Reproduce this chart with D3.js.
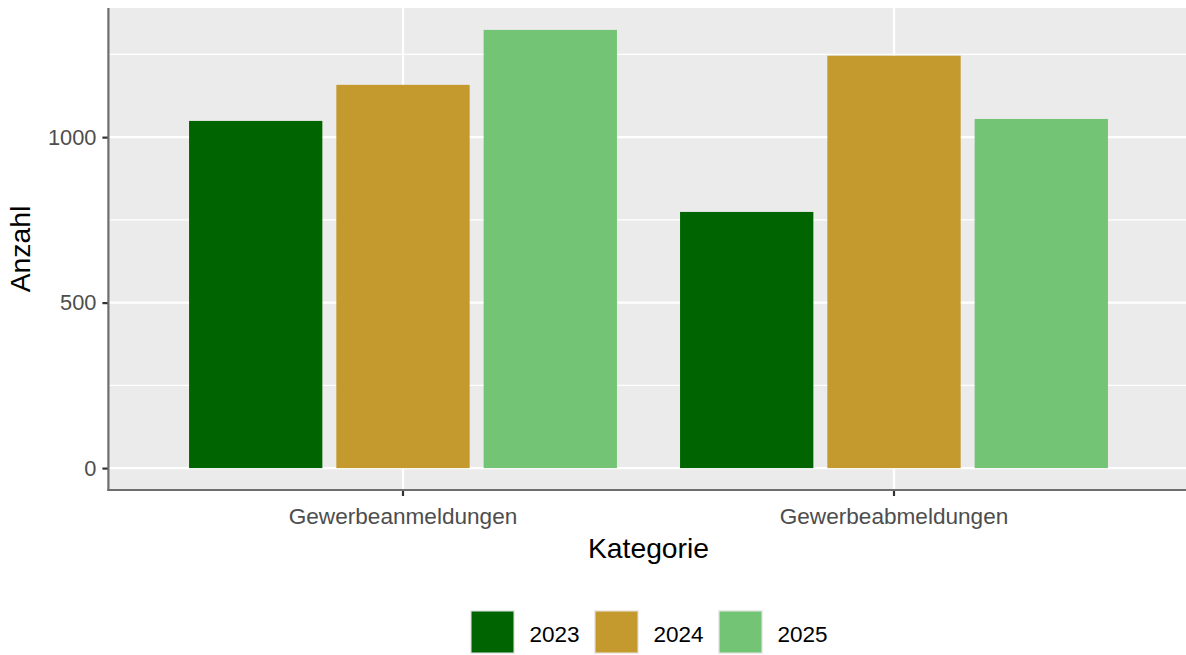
<!DOCTYPE html>
<html>
<head>
<meta charset="utf-8">
<script src="https://cdn.jsdelivr.net/npm/d3@7"></script>
<style>
  html, body { margin: 0; padding: 0; background: #fff; }
  svg text { font-family: "Liberation Sans", Arial, sans-serif; }
</style>
</head>
<body>
<svg id="chart" width="1186" height="655"></svg>
<script>
// --- DATA ---
const categories = ["Gewerbeanmeldungen", "Gewerbeabmeldungen"];
const years = ["2023", "2024", "2025"];
const values2023 = [1049, 774];
const values2024 = [1158, 1246];
const values2025 = [1324, 1055];
const yTicks = [0, 500, 1000];
const yMinorTicks = [250, 750, 1250];
const colors = ["#006400", "#C4992D", "#74C476"];

const series = [values2023, values2024, values2025];
const rows = [];
categories.forEach((c, ci) => {
  years.forEach((yr, yi) => rows.push({ cat: c, year: yr, value: series[yi][ci] }));
});

// --- LAYOUT ---
const panel = { left: 108.4, right: 1188.6, top: 8, bottom: 490 };

const svg = d3.select("#chart");

const x = d3.scaleBand()
  .domain(categories)
  .range([panel.left, panel.right])
  .paddingInner(0)
  .paddingOuter(0.1);

const dodge = x.bandwidth() * 0.9;
const xInner = d3.scaleBand()
  .domain(years)
  .range([(x.bandwidth() - dodge) / 2, (x.bandwidth() + dodge) / 2])
  .paddingInner(0.095)
  .paddingOuter(0.0475);

const maxV = d3.max(rows, d => d.value);
const y = d3.scaleLinear()
  .domain([-0.05 * maxV, maxV * 1.05])
  .range([panel.bottom, panel.top]);

const color = d3.scaleOrdinal().domain(years).range(colors);

// panel background
svg.append("rect")
  .attr("x", panel.left).attr("y", panel.top)
  .attr("width", panel.right - panel.left)
  .attr("height", panel.bottom - panel.top)
  .attr("fill", "#EBEBEB");

// grid
const grid = svg.append("g");
grid.selectAll(".minor").data(yMinorTicks).enter().append("line")
  .attr("x1", panel.left).attr("x2", panel.right)
  .attr("y1", d => y(d)).attr("y2", d => y(d))
  .attr("stroke", "#fff").attr("stroke-width", 1.1);
grid.selectAll(".major").data(yTicks).enter().append("line")
  .attr("x1", panel.left).attr("x2", panel.right)
  .attr("y1", d => y(d)).attr("y2", d => y(d))
  .attr("stroke", "#fff").attr("stroke-width", 2.2);
grid.selectAll(".vmajor").data(categories).enter().append("line")
  .attr("x1", d => x(d) + x.bandwidth() / 2).attr("x2", d => x(d) + x.bandwidth() / 2)
  .attr("y1", panel.top).attr("y2", panel.bottom)
  .attr("stroke", "#fff").attr("stroke-width", 2.2);

// bars
svg.append("g").selectAll("rect").data(rows).enter().append("rect")
  .attr("x", d => x(d.cat) + xInner(d.year))
  .attr("width", xInner.bandwidth())
  .attr("y", d => y(d.value))
  .attr("height", d => y(0) - y(d.value))
  .attr("fill", d => color(d.year));

// axes
const yAxis = svg.append("g")
  .attr("transform", `translate(${panel.left},0)`)
  .call(d3.axisLeft(y).tickValues(yTicks).tickSize(6).tickPadding(6).tickFormat(d3.format("d")));
const xAxis = svg.append("g")
  .attr("transform", `translate(0,${panel.bottom})`)
  .call(d3.axisBottom(x).tickSize(6).tickPadding(8));

[yAxis, xAxis].forEach(a => {
  a.select(".domain").remove();
  a.selectAll(".tick line").attr("stroke", "#333").attr("stroke-width", 2.2);
  a.selectAll(".tick text").attr("fill", "#4D4D4D").style("font-size", "21.8px");
});
xAxis.selectAll(".tick text").style("font-size", "22.6px").attr("dy", "0.9em");

svg.append("line")
  .attr("x1", panel.left).attr("x2", panel.left)
  .attr("y1", panel.top).attr("y2", panel.bottom + 1)
  .attr("stroke", "#6E6E6E").attr("stroke-width", 2.2);
svg.append("line")
  .attr("x1", panel.left - 1).attr("x2", panel.right)
  .attr("y1", panel.bottom).attr("y2", panel.bottom)
  .attr("stroke", "#6E6E6E").attr("stroke-width", 2.2);

// axis titles
svg.append("text")
  .attr("x", (panel.left + panel.right) / 2).attr("y", 558)
  .attr("text-anchor", "middle")
  .style("font-size", "28.3px").attr("fill", "#000")
  .text("Kategorie");
svg.append("text")
  .attr("transform", `translate(30,${(panel.top + panel.bottom) / 2}) rotate(-90)`)
  .attr("text-anchor", "middle")
  .style("font-size", "28.3px").attr("fill", "#000")
  .text("Anzahl");

// legend
const legendX = [470, 594, 718];
const legend = svg.append("g");
const item = legend.selectAll("g").data(years).enter().append("g")
  .attr("transform", (d, i) => `translate(${legendX[i]},610)`);
item.append("rect")
  .attr("width", 45).attr("height", 44)
  .attr("fill", "#EBEBEB");
item.append("rect")
  .attr("x", 1.5).attr("y", 1.5)
  .attr("width", 42).attr("height", 41)
  .attr("fill", d => color(d));
item.append("text")
  .attr("x", 59.5).attr("y", 32)
  .style("font-size", "22.5px").attr("fill", "#000")
  .text(d => d);
</script>
</body>
</html>
